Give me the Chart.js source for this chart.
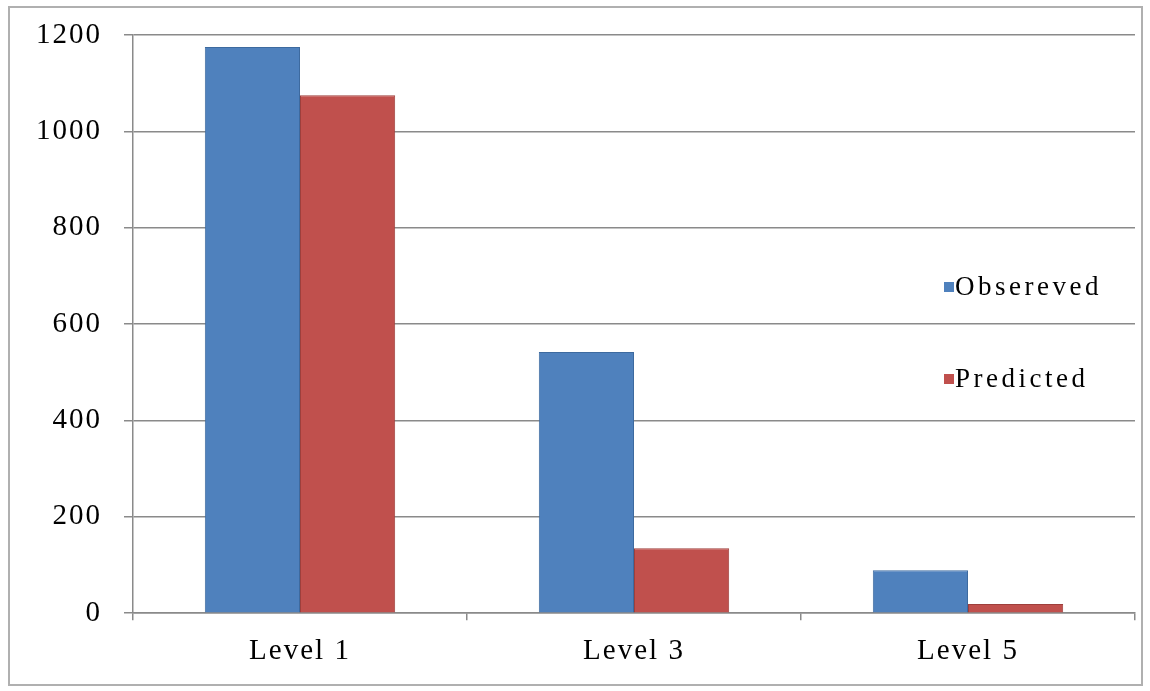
<!DOCTYPE html>
<html>
<head>
<meta charset="utf-8">
<title>Observed vs Predicted</title>
<script src="https://cdn.jsdelivr.net/npm/chart.js@4.4.1/dist/chart.umd.min.js"></script>
<style>
  html, body { margin: 0; padding: 0; background: #fff; }
  #wrap  { position: relative; width: 1150px; height: 691px; }
  #frame { position: absolute; left: 8px; top: 6px; width: 1135px; height: 680px;
           border: 2px solid #b0b0b0; box-sizing: border-box; pointer-events: none; }
</style>
</head>
<body>
<div id="wrap">
  <canvas id="chart" width="1150" height="691"></canvas>
  <div id="frame"></div>
</div>
<script>
// ── Data ─────────────────────────────────────────────────────────────────────
const levels    = ['Level 1', 'Level 3', 'Level 5'];
const observed  = [1175, 542, 89];
const predicted = [1075, 135, 19];
const seriesNames = ['Obsereved', 'Predicted'];

// ── Style ────────────────────────────────────────────────────────────────────
const BLUE      = '#4f81bd';
const BLUE_EDGE = '#3d6a9f';
const RED       = '#c0504d';
const RED_EDGE  = '#9e3f3c';
const GRID      = '#8a8a8a';
const FONT      = { family: '"Liberation Serif", "Times New Roman", serif', size: 29 };
const LETTER_SP = '2px';

// Excel-style wide text spacing for every label on the canvas
const spacing = {
  id: 'spacing',
  beforeDraw(chart) { chart.ctx.letterSpacing = LETTER_SP; }
};

// Legend floats inside the plot, right side, no box
const floatingLegend = {
  id: 'floatingLegend',
  afterDraw(chart) {
    const ctx = chart.ctx;
    const rows = [287, 379];
    ctx.save();
    ctx.font = `${FONT.size - 2}px ${FONT.family}`;
    ctx.letterSpacing = '3.5px';
    ctx.textBaseline = 'middle';
    ctx.textAlign = 'left';
    chart.data.datasets.forEach((ds, i) => {
      const y = rows[i];
      ctx.fillStyle = ds.backgroundColor;
      ctx.fillRect(944, y - 5, 10, 10);
      ctx.fillStyle = '#000';
      ctx.fillText(ds.label, 955, y + 1);
    });
    ctx.restore();
  }
};

new Chart(document.getElementById('chart'), {
  type: 'bar',
  data: {
    labels: levels,
    datasets: [
      { label: seriesNames[0], data: observed,  backgroundColor: BLUE, borderColor: BLUE_EDGE, borderWidth: 1 },
      { label: seriesNames[1], data: predicted, backgroundColor: RED,  borderColor: RED_EDGE,  borderWidth: 1 }
    ]
  },
  options: {
    responsive: false,
    animation: false,
    categoryPercentage: 0.57,
    barPercentage: 1.0,
    layout: { padding: { left: 8, right: 15, top: 35, bottom: 8 } },
    plugins: {
      legend: { display: false },
      tooltip: { enabled: false }
    },
    scales: {
      x: {
        grid: { display: true, drawOnChartArea: false, drawTicks: true, tickLength: 7,
                offset: true, color: GRID, lineWidth: 1.5 },
        border: { color: GRID, width: 1.5 },
        ticks: { color: '#000', font: FONT, padding: 14 }
      },
      y: {
        min: 0, max: 1200,
        afterFit(scale) {
          scale.width = 125;
          scale.paddingTop = 0;
          scale.paddingBottom = 0;
        },
        grid: { color: GRID, lineWidth: 1.5, tickLength: 9 },
        border: { color: GRID, width: 1.5 },
        ticks: { stepSize: 200, color: '#000', font: FONT, padding: 22,
                 callback: v => String(v) }
      }
    }
  },
  plugins: [spacing, floatingLegend]
});
</script>
</body>
</html>
